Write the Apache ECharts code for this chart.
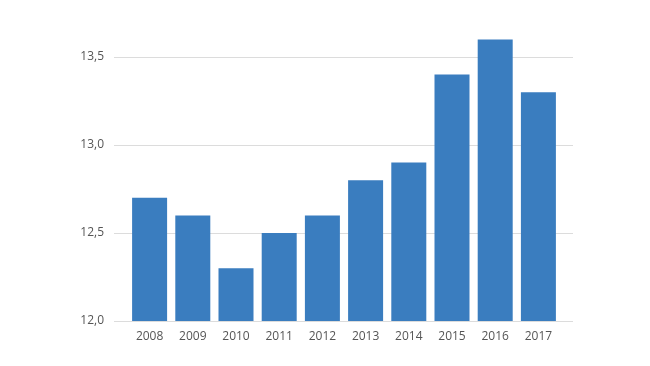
<!DOCTYPE html>
<html>
<head>
<meta charset="utf-8">
<script src="https://cdn.jsdelivr.net/npm/echarts@6/dist/echarts.min.js"></script>
<style>
html,body{margin:0;padding:0;background:#fff;}
#chart{width:650px;height:366px;}
</style>
</head>
<body>
<div id="chart"></div>
<script>
const years = ['2008','2009','2010','2011','2012','2013','2014','2015','2016','2017'];
const values = [12.7, 12.6, 12.3, 12.5, 12.6, 12.8, 12.9, 13.4, 13.6, 13.3];
const yMin = 12.0, yMax = 13.5, yStep = 0.5;
const barAxisMax = 13.7;

const chart = echarts.init(document.getElementById('chart'), null, {renderer: 'canvas'});
const font = '"Open Sans", "Noto Sans", sans-serif';
const plotBottom = 45, plotTop = 57;
const pxPerUnit = (366 - plotBottom - plotTop) / (yMax - yMin);
const barTop = 366 - plotBottom - pxPerUnit * (barAxisMax - yMin);
chart.setOption({
  animation: false,
  backgroundColor: '#ffffff',
  grid: [
    {left: 114, right: 77, top: plotTop, bottom: plotBottom},
    {left: 128, right: 90, top: barTop, bottom: plotBottom}
  ],
  xAxis: [
    {type: 'value', gridIndex: 0, show: false, min: 0, max: 1},
    {
      type: 'category', gridIndex: 1, data: years,
      axisLine: {show: false}, axisTick: {show: false},
      axisLabel: {color: '#555', fontSize: 12, fontFamily: font, margin: 10}
    }
  ],
  yAxis: [
    {
      type: 'value', gridIndex: 0, min: yMin, max: yMax, interval: yStep,
      axisLine: {show: false}, axisTick: {show: false},
      splitLine: {lineStyle: {color: '#dcdcdc', width: 1}},
      axisLabel: {
        color: '#555', fontSize: 12, fontFamily: font, margin: 10,
        formatter: v => v.toFixed(1).replace('.', ',')
      }
    },
    {type: 'value', gridIndex: 1, min: yMin, max: barAxisMax, show: false}
  ],
  series: [{
    type: 'bar', xAxisIndex: 1, yAxisIndex: 1,
    data: values, barWidth: 35,
    itemStyle: {color: '#3a7dbf'}
  }]
});
</script>
</body>
</html>
